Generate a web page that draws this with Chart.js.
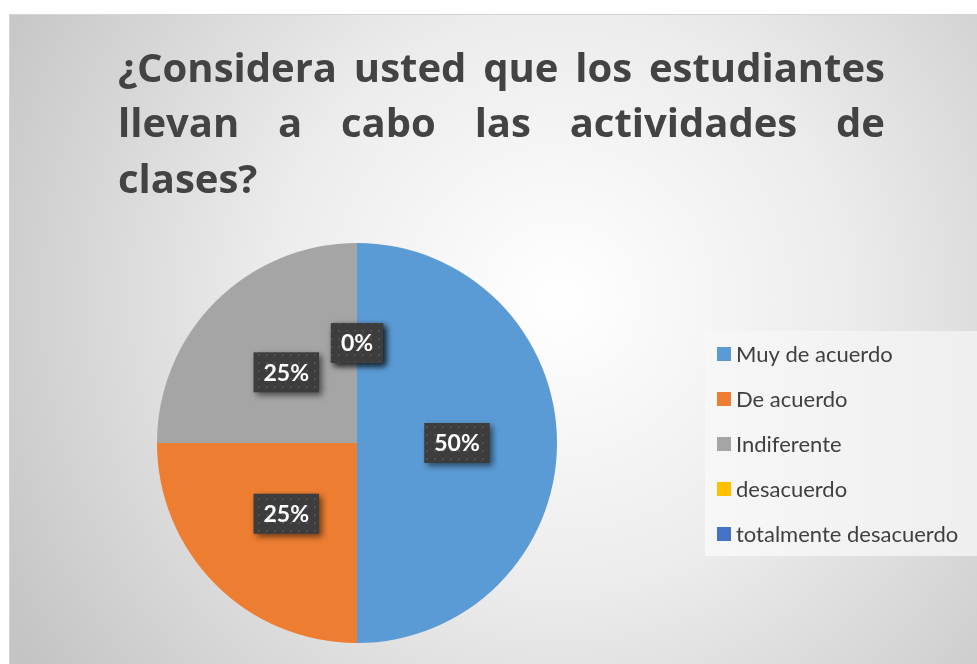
<!DOCTYPE html>
<html>
<head>
<meta charset="utf-8">
<script src="https://cdn.jsdelivr.net/npm/chart.js@4/dist/chart.umd.min.js"></script>
<style>
  html, body { margin: 0; padding: 0; background: #fff; }
  #wrap { width: 977px; height: 664px; position: relative; }
</style>
</head>
<body>
<div id="wrap"><canvas id="chart" width="977" height="664"></canvas></div>
<script>
let title_lines = [
    '¿Considera usted que los estudiantes',
    'llevan a cabo las actividades de',
    'clases?'
]
let categories = ['Muy de acuerdo', 'De acuerdo', 'Indiferente', 'desacuerdo', 'totalmente desacuerdo']
let values = [50, 25, 25, 0, 0]
let colors = ['#5b9bd5', '#ed7d31', '#a5a5a5', '#ffc000', '#4472c4']

// dotted fill used behind the percentage labels
function makePattern(ctx) {
    let p = document.createElement('canvas')
    p.width = 8
    p.height = 8
    let pc = p.getContext('2d')
    pc.fillStyle = '#3d3d3d'
    pc.fillRect(0, 0, 8, 8)
    pc.fillStyle = '#4f4f4f'
    pc.fillRect(2, 2, 2, 2)
    return ctx.createPattern(p, 'repeat')
}

const background = {
    id: 'background',
    beforeDraw(chart) {
        let ctx = chart.ctx
        ctx.save()
        ctx.fillStyle = '#ffffff'
        ctx.fillRect(0, 0, chart.width, chart.height)
        let g = ctx.createRadialGradient(560, 300, 0, 560, 300, 640)
        g.addColorStop(0, '#ffffff')
        g.addColorStop(0.45, '#ececec')
        g.addColorStop(1, '#c4c4c4')
        ctx.fillStyle = g
        ctx.fillRect(9, 14, chart.width - 9, chart.height - 14)
        ctx.strokeStyle = '#d4d4d4'
        ctx.lineWidth = 1
        ctx.beginPath()
        ctx.moveTo(9.5, chart.height)
        ctx.lineTo(9.5, 14.5)
        ctx.lineTo(chart.width, 14.5)
        ctx.stroke()

        // justified title
        ctx.fillStyle = '#434343'
        ctx.font = 'bold 40px "Open Sans"'
        ctx.textBaseline = 'alphabetic'
        let left = 118, right = 885
        let baselines = [82, 137, 193]
        title_lines.forEach((line, i) => {
            let words = line.split(' ')
            if (i == title_lines.length - 1 || words.length < 2) {
                ctx.textAlign = 'left'
                ctx.fillText(line, left, baselines[i])
                return
            }
            let total = words.reduce((s, w) => s + ctx.measureText(w).width, 0)
            let gap = (right - left - total) / (words.length - 1)
            let x = left
            words.forEach(w => {
                ctx.fillText(w, x, baselines[i])
                x += ctx.measureText(w).width + gap
            })
        })
        ctx.restore()
    }
}

const labelsAndLegend = {
    id: 'labelsAndLegend',
    afterDatasetsDraw(chart) {
        let ctx = chart.ctx
        let meta = chart.getDatasetMeta(0)
        let pattern = makePattern(ctx)
        ctx.save()
        ctx.font = 'bold 23px Lato'
        ctx.textAlign = 'center'
        ctx.textBaseline = 'middle'
        meta.data.forEach((arc, i) => {
            let mid = (arc.startAngle + arc.endAngle) / 2
            let r = arc.outerRadius * 0.5
            let cx = arc.x + Math.cos(mid) * r
            let cy = arc.y + Math.sin(mid) * r
            let text = values[i] + '%'
            let w = ctx.measureText(text).width + 20
            let h = 40
            ctx.save()
            ctx.shadowColor = 'rgba(0,0,0,0.55)'
            ctx.shadowBlur = 6
            ctx.shadowOffsetX = 3
            ctx.shadowOffsetY = 3
            ctx.fillStyle = pattern
            ctx.fillRect(cx - w / 2, cy - h / 2, w, h)
            ctx.restore()
            ctx.fillStyle = '#ffffff'
            ctx.fillText(text, cx, cy + 1)
        })

        // legend box on the right
        let lg = ctx.createLinearGradient(705, 0, 977, 0)
        lg.addColorStop(0, '#f7f7f7')
        lg.addColorStop(1, '#efefef')
        ctx.fillStyle = lg
        ctx.fillRect(705, 331, 272, 225)
        ctx.font = '22px Lato'
        ctx.textAlign = 'left'
        categories.forEach((c, i) => {
            let y = 354 + i * 45
            ctx.fillStyle = colors[i]
            ctx.fillRect(717, y - 7, 14, 14)
            ctx.fillStyle = '#404040'
            ctx.fillText(c, 736, y + 1)
        })
        ctx.restore()
    }
}

new Chart(document.getElementById('chart').getContext('2d'), {
    type: 'pie',
    data: {
        labels: categories,
        datasets: [{
            data: values,
            backgroundColor: colors,
            borderWidth: 0
        }]
    },
    options: {
        responsive: false,
        animation: false,
        layout: { padding: { left: 157, right: 420, top: 243, bottom: 21 } },
        plugins: {
            legend: { display: false },
            title: { display: false },
            tooltip: { enabled: false }
        }
    },
    plugins: [background, labelsAndLegend]
})
</script>
</body>
</html>
